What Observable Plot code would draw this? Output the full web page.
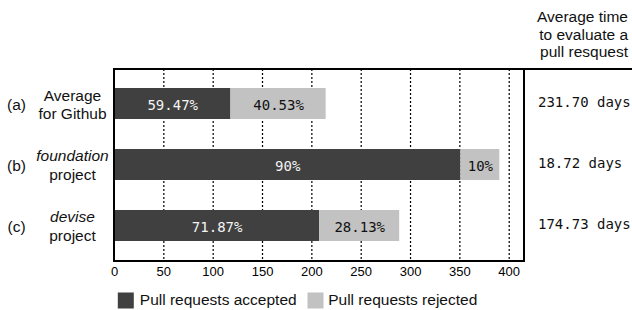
<!DOCTYPE html>
<html>
<head>
<meta charset="utf-8">
<script src="https://cdn.jsdelivr.net/npm/d3@7"></script>
<script src="https://cdn.jsdelivr.net/npm/@observablehq/plot@0.6"></script>
<style>
  html, body { margin: 0; padding: 0; background: #fff; }
</style>
</head>
<body>
<div id="chart"></div>
<script>
// ---- data ----
const categories = ["(a)", "(b)", "(c)"];
const nameLine1 = ["Average", "foundation", "devise"];
const nameLine2 = ["for Github", "project", "project"];
const italicLine1 = [false, true, true];
const accepted = [118, 351, 208];
const rejected = [96.5, 39.5, 81];
const acceptedLabels = ["59.47%", "90%", "71.87%"];
const rejectedLabels = ["40.53%", "10%", "28.13%"];
const daysLabels = ["231.70 days", "18.72 days", "174.73 days"];
const seriesNames = ["Pull requests accepted", "Pull requests rejected"];
const seriesColors = ["#404040", "#c2c2c2"];
const labelColors = ["#f4f4f4", "#111111"];
const xTicks = [0, 50, 100, 150, 200, 250, 300, 350, 400];
const gridTicks = [50, 100, 150, 200, 250, 300, 350, 400];
const headerText = "Average time\nto evaluate a\npull resquest";

// ---- derived tables ----
const rows = categories.map((c, i) => ({
  cat: c, line1: nameLine1[i], line2: nameLine2[i], italic: italicLine1[i], days: daysLabels[i]
}));
const stacked = [];
categories.forEach((c, i) => {
  stacked.push({cat: c, type: seriesNames[0], value: accepted[i], label: acceptedLabels[i], tc: labelColors[0]});
  stacked.push({cat: c, type: seriesNames[1], value: rejected[i], label: rejectedLabels[i], tc: labelColors[1]});
});

const sans = "'Liberation Sans', Arial, sans-serif";
const mono = "'DejaVu Sans Mono', monospace";
const big = 15.5;

const frameLines = (index, scales, values, dimensions) => {
  const {width, height, marginLeft, marginRight, marginTop, marginBottom} = dimensions;
  const x0 = marginLeft, x1 = width - marginRight, y0 = marginTop, y1 = height - marginBottom;
  const p = document.createElementNS("http://www.w3.org/2000/svg", "path");
  p.setAttribute("d", `M${x0},${y1}V${y0}H${width}M${x1},${y0}V${y1}M${x0 - 1},${y1}H${x1 + 1}`);
  p.setAttribute("stroke", "#000");
  p.setAttribute("stroke-width", "2");
  p.setAttribute("fill", "none");
  return p;
};

const chart = Plot.plot({
  width: 632,
  height: 310,
  marginLeft: 114,
  marginRight: 108,
  marginTop: 69,
  marginBottom: 49,
  style: {fontFamily: sans, fontSize: "13px", background: "#fff", color: "#000", overflow: "visible"},
  x: {domain: [0, 415.5], ticks: xTicks, tickSize: 0, tickPadding: 5, label: null, tickFormat: d => String(d)},
  y: {domain: categories, axis: null, paddingInner: 0.49, paddingOuter: 0.3},
  color: {domain: seriesNames, range: seriesColors},
  marks: [
    Plot.ruleX(gridTicks, {x: d => d, stroke: "#000", strokeWidth: 1.2, strokeDasharray: "2,2"}),
    Plot.barX(stacked, Plot.stackX({x: "value", y: "cat", fill: "type"})),
    Plot.text(stacked, Plot.stackX({x: "value", y: "cat", text: "label", fill: "tc", fontFamily: mono, fontSize: 14, dy: 2})),
    frameLines,
    // days column
    Plot.text(rows, {y: "cat", text: "days", frameAnchor: "right", dx: 13.5, dy: -1, textAnchor: "start", fontFamily: mono, fontSize: 14, fill: "#111"}),
    // header
    Plot.text([headerText], {text: d => d, frameAnchor: "top-right", dx: 103.5, dy: -12.3, textAnchor: "end", lineAnchor: "bottom", lineHeight: 1.13, fontSize: big, fontFamily: sans, fill: "#111"}),
    // category letters
    Plot.text(rows, {y: "cat", text: "cat", frameAnchor: "left", dx: -98, dy: 1, textAnchor: "middle", fontSize: big, fontFamily: sans, fill: "#111"}),
    // name lines
    Plot.text(rows.filter(d => !d.italic), {y: "cat", text: "line1", frameAnchor: "left", dx: -42, dy: -3, lineAnchor: "bottom", textAnchor: "middle", fontSize: big, fontFamily: sans, fill: "#111"}),
    Plot.text(rows.filter(d => d.italic), {y: "cat", text: "line1", frameAnchor: "left", dx: -42, dy: -4, lineAnchor: "bottom", textAnchor: "middle", fontSize: big, fontFamily: sans, fontStyle: "italic", fill: "#111"}),
    Plot.text(rows, {y: "cat", text: "line2", frameAnchor: "left", dx: -42, dy: 14.5, lineAnchor: "bottom", textAnchor: "middle", fontSize: big, fontFamily: sans, fill: "#111"}),
    // legend
    Plot.dot([seriesNames[0]], {frameAnchor: "bottom-left", dx: 11.3, dy: 39, symbol: "square", r: 9.03, fill: seriesColors[0], stroke: null}),
    Plot.text([seriesNames[0]], {text: d => d, frameAnchor: "bottom-left", dx: 25.3, dy: 43.5, textAnchor: "start", lineAnchor: "bottom", fontSize: big, fontFamily: sans, fill: "#111"}),
    Plot.dot([seriesNames[1]], {frameAnchor: "bottom-left", dx: 201, dy: 39, symbol: "square", r: 9.03, fill: seriesColors[1], stroke: null}),
    Plot.text([seriesNames[1]], {text: d => d, frameAnchor: "bottom-left", dx: 213.7, dy: 43.5, textAnchor: "start", lineAnchor: "bottom", fontSize: big, fontFamily: sans, fill: "#111"})
  ]
});
document.getElementById("chart").appendChild(chart);
</script>
</body>
</html>
